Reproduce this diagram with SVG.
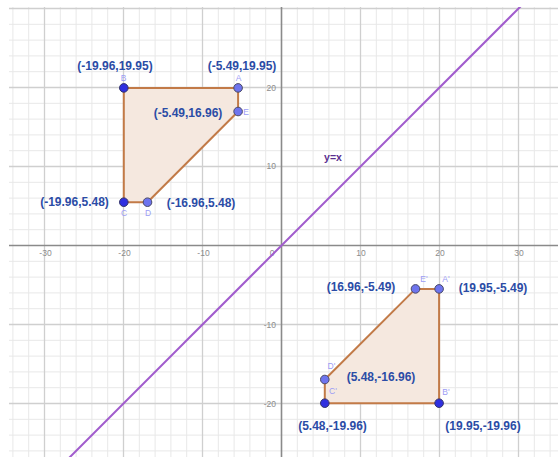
<svg xmlns="http://www.w3.org/2000/svg" width="558" height="457" viewBox="0 0 558 457">
<defs>
<style>
.minor{stroke:#e8e8e8;stroke-width:1;fill:none}
.major{stroke:#cfcfcf;stroke-width:1.3;fill:none}
.axis{stroke:#8a8a8a;stroke-width:1.6;fill:none}
.tick{font-family:"Liberation Sans",Arial,sans-serif;font-size:8.5px;fill:#8c8c8c}
.poly{fill:#f5e8df;stroke:#c27a47;stroke-width:2;stroke-linejoin:round}
.coord{font-family:"Liberation Sans",Arial,sans-serif;font-size:12px;font-weight:bold;fill:#2b4ca6;text-anchor:middle}
.name{font-family:"Liberation Sans",Arial,sans-serif;font-size:8.5px;fill:#9c9cf5;text-anchor:middle}
.ptd{fill:#2f2fe0;stroke:#33336a;stroke-width:1}
.ptl{fill:#6e74ee;stroke:#4a4a66;stroke-width:1}
.line{stroke:#a15ccd;stroke-width:2;fill:none}
</style>
<clipPath id="area"><rect x="9" y="7" width="549" height="450"/></clipPath>
</defs>
<rect width="558" height="457" fill="#ffffff"/>
<g id="grid" clip-path="url(#area)">
<path class="minor" d="M12.9 7V457M28.7 7V457M60.3 7V457M76.1 7V457M91.9 7V457M107.7 7V457M139.3 7V457M155.1 7V457M170.9 7V457M186.7 7V457M218.3 7V457M234.1 7V457M249.9 7V457M265.7 7V457M297.3 7V457M313.1 7V457M328.9 7V457M344.7 7V457M376.3 7V457M392.1 7V457M407.9 7V457M423.7 7V457M455.3 7V457M471.1 7V457M486.9 7V457M502.7 7V457M534.3 7V457M550.1 7V457
M9 24.3H558M9 40.1H558M9 55.9H558M9 71.7H558M9 103.3H558M9 119.1H558M9 134.9H558M9 150.7H558M9 182.3H558M9 198.1H558M9 213.9H558M9 229.7H558M9 261.3H558M9 277.1H558M9 292.9H558M9 308.7H558M9 340.3H558M9 356.1H558M9 371.9H558M9 387.7H558M9 419.3H558M9 435.1H558M9 450.9H558"/>
<path class="major" d="M44.5 7V457M123.5 7V457M202.5 7V457M360.5 7V457M439.5 7V457M518.5 7V457M9 8.5H558M9 87.5H558M9 166.5H558M9 324.5H558M9 403.5H558"/>
<path class="axis" d="M281.5 7V457M9 245.5H558"/>
</g>
<g id="ticks" class="tick">
<text x="45.5" y="256" text-anchor="middle">-30</text>
<text x="124.5" y="256" text-anchor="middle">-20</text>
<text x="203.5" y="256" text-anchor="middle">-10</text>
<text x="272" y="256" text-anchor="middle">0</text>
<text x="361" y="256" text-anchor="middle">10</text>
<text x="440" y="256" text-anchor="middle">20</text>
<text x="519" y="256" text-anchor="middle">30</text>
<text x="276" y="91" text-anchor="end">20</text>
<text x="276" y="169" text-anchor="end">10</text>
<text x="276" y="328" text-anchor="end">-10</text>
<text x="276" y="407" text-anchor="end">-20</text>
</g>
<g id="connectors">
<line class="line" x1="68.2" y1="458.8" x2="520.9" y2="6.1" clip-path="url(#area)"/>
</g>
<g id="polygon-ABCDE">
<polygon class="poly" points="238.1,87.9 123.8,87.9 123.8,202.2 147.5,202.2 238.1,111.5"/>
</g>
<g id="polygon-A1B1C1D1E1">
<polygon class="poly" points="439.1,288.9 439.1,403.2 324.8,403.2 324.8,379.5 415.5,288.9"/>
</g>
<g id="label-yx">
<text x="333" y="161" font-family="Liberation Sans, Arial, sans-serif" font-size="10.5" font-weight="bold" fill="#5b2f8f" text-anchor="middle">y=x</text>
</g>
<g id="node-B"><circle class="ptd" cx="123.8" cy="87.9" r="4.3"/><text class="name" x="123.5" y="80.5">B</text><text class="coord" x="115" y="69.5">(-19.96,19.95)</text></g>
<g id="node-A"><circle class="ptl" cx="238.1" cy="87.9" r="4.3"/><text class="name" x="238.5" y="80.5">A</text><text class="coord" x="242" y="69.5">(-5.49,19.95)</text></g>
<g id="node-E"><circle class="ptl" cx="238.1" cy="111.5" r="4.3"/><text class="name" x="246" y="115">E</text><text class="coord" x="188" y="117">(-5.49,16.96)</text></g>
<g id="node-C"><circle class="ptd" cx="123.8" cy="202.2" r="4.3"/><text class="name" x="124" y="216">C</text><text class="coord" x="74.5" y="206">(-19.96,5.48)</text></g>
<g id="node-D"><circle class="ptl" cx="147.5" cy="202.2" r="4.3"/><text class="name" x="148" y="216">D</text><text class="coord" x="201" y="207">(-16.96,5.48)</text></g>
<g id="node-E1"><circle class="ptl" cx="415.5" cy="288.9" r="4.3"/><text class="name" x="424" y="282">E'</text><text class="coord" x="361" y="291">(16.96,-5.49)</text></g>
<g id="node-A1"><circle class="ptl" cx="439.1" cy="288.9" r="4.3"/><text class="name" x="446" y="282">A'</text><text class="coord" x="493" y="292">(19.95,-5.49)</text></g>
<g id="node-D1"><circle class="ptl" cx="324.8" cy="379.5" r="4.3"/><text class="name" x="331.5" y="369">D'</text><text class="coord" x="381" y="381">(5.48,-16.96)</text></g>
<g id="node-C1"><circle class="ptd" cx="324.8" cy="403.2" r="4.3"/><text class="name" x="333" y="394">C'</text><text class="coord" x="332.5" y="430">(5.48,-19.96)</text></g>
<g id="node-B1"><circle class="ptd" cx="439.1" cy="403.2" r="4.3"/><text class="name" x="446" y="395">B'</text><text class="coord" x="483" y="430">(19.95,-19.96)</text></g>
</svg>
